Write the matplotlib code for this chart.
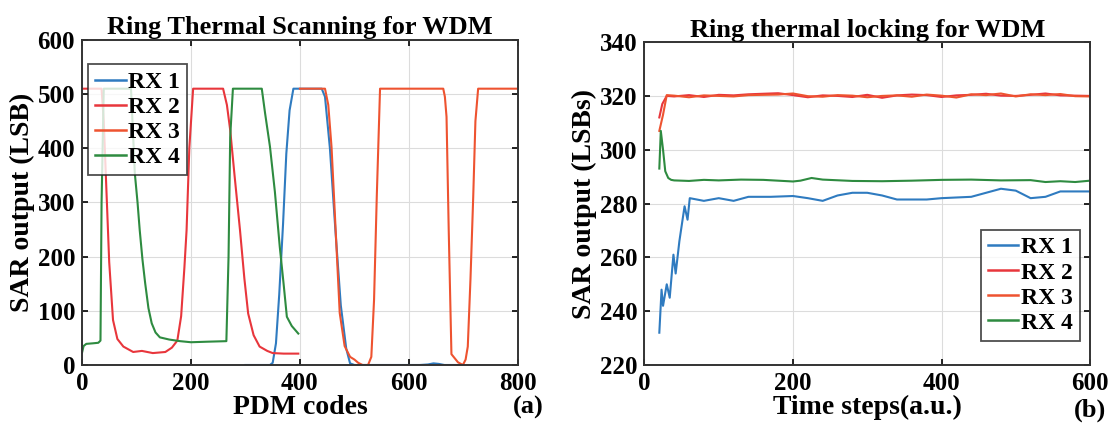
import numpy as np
import matplotlib.pyplot as plt

plt.rcParams['font.family'] = ['Liberation Serif', 'DejaVu Serif']
plt.rcParams['font.weight'] = 'bold'

labels = ['RX 1', 'RX 2', 'RX 3', 'RX 4']
colors = ['#2f7bc0', '#e8363c', '#ee5330', '#2e8b40']

# ---- (a) thermal scanning ----
rx1_x = [300, 345, 350, 356, 362, 369, 375, 381, 388, 440, 446, 455, 465, 475, 485, 492, 500,
         620, 635, 645, 655, 665, 700]
rx1_y = [0, 0, 4, 40, 130, 260, 390, 470, 510, 510, 495, 400, 250, 110, 30, 3, 0,
         0, 1, 3, 2, 0, 0]

rx2_x = [0, 36, 40, 45, 50, 57, 65, 76, 94, 110, 130, 153, 165, 175, 182, 188, 192, 197, 204,
         259, 266, 272, 280, 290, 298, 305, 315, 326, 340, 350, 370, 397]
rx2_y = [510, 510, 450, 320, 190, 83, 48, 34, 24, 26, 22, 24, 32, 45, 90, 180, 249, 400, 510,
         510, 480, 434, 350, 249, 160, 95, 55, 34, 26, 22, 21, 21]

rx3_x = [400, 446, 452, 458, 465, 473, 482, 492, 500, 507, 515, 525, 531, 536, 541, 547,
         663, 666, 669, 673, 678, 690, 699, 704, 708, 713, 718, 722, 727, 800]
rx3_y = [510, 510, 480, 402, 260, 96, 35, 15, 10, 4, 0, 0, 15, 120, 311, 510,
         510, 495, 458, 250, 20, 5, 0, 10, 34, 160, 311, 450, 510, 510]

rx4_x = [0, 3, 8, 20, 30, 34, 36, 40, 90, 97, 102, 106, 111, 116, 122, 128, 135, 143, 160, 180,
         200, 230, 265, 269, 272, 277, 330, 336, 345, 354, 363, 370, 376, 385, 397]
rx4_y = [22, 35, 39, 40, 41, 45, 300, 510, 510, 354, 300, 249, 195, 151, 105, 77, 60, 51, 47, 44,
         42, 43, 44, 200, 420, 510, 510, 465, 403, 320, 218, 150, 89, 72, 58]

# ---- (b) thermal locking ----
lk1_x = [20, 23, 25, 30, 34, 39, 42, 47, 54, 58, 61, 80, 100, 120, 140, 170, 200, 220, 240, 260,
         280, 300, 320, 340, 380, 400, 440, 460, 480, 500, 520, 540, 560, 600]
lk1_y = [232, 248, 242, 250, 245, 261, 254, 266, 279, 274, 282, 281, 282, 281, 282.5, 282.5, 282.8,
         282, 281, 283, 284, 284, 283, 281.5, 281.5, 282, 282.5, 284, 285.5, 284.8, 282, 282.5,
         284.5, 284.5]

lk2_x = [20, 24, 30, 40, 60, 80, 100, 120, 140, 160, 180, 200, 220, 240, 260, 280, 300, 320, 340,
         360, 380, 400, 420, 440, 460, 480, 500, 520, 540, 560, 580, 600]
lk2_y = [312, 317, 320, 319.8, 320.3, 319.6, 320.4, 320.2, 320.6, 320.8, 321.0, 320.3, 319.5, 320.2,
         320.0, 319.6, 320.4, 319.3, 320.2, 320.5, 320.3, 319.6, 320.2, 320.4, 320.8, 320.1, 320.0,
         320.4, 320.9, 320.2, 320.1, 320.0]

lk3_x = [20, 25, 30, 40, 60, 80, 100, 120, 140, 160, 180, 200, 220, 240, 260, 280, 300, 320, 340,
         360, 380, 400, 420, 440, 460, 480, 500, 520, 540, 560, 580, 600]
lk3_y = [307, 313, 320.3, 320.1, 319.5, 320.2, 320.0, 319.8, 320.3, 320.4, 320.5, 320.9, 319.9,
         319.7, 320.3, 320.1, 319.5, 320.0, 320.2, 319.7, 320.5, 320.1, 319.4, 320.6, 320.3, 320.9,
         319.8, 320.6, 320.3, 320.7, 319.9, 319.8]

lk4_x = [20, 22, 25, 28, 32, 36, 40, 60, 80, 100, 130, 160, 200, 210, 225, 240, 280, 320, 360,
         400, 440, 480, 520, 540, 560, 580, 600]
lk4_y = [293, 307, 300, 292, 289.5, 288.8, 288.6, 288.4, 288.8, 288.6, 288.9, 288.8, 288.2, 288.5,
         289.5, 288.9, 288.4, 288.3, 288.5, 288.8, 288.9, 288.6, 288.7, 288.0, 288.3, 288.0, 288.5]

fig = plt.figure(figsize=(11.15, 4.34), dpi=100)
ax1 = fig.add_axes([0.0735, 0.159, 0.391, 0.749])
ax2 = fig.add_axes([0.578, 0.159, 0.3996, 0.744])


def style(ax):
    ax.grid(True, color='#dcdcdc', lw=0.8)
    ax.set_axisbelow(True)
    ax.tick_params(direction='in', top=True, right=True, labelsize=18, width=1.2, length=4, pad=5)
    for sp in ax.spines.values():
        sp.set_linewidth(1.4)
        sp.set_color('#333333')
    for lab in ax.get_xticklabels() + ax.get_yticklabels():
        lab.set_fontweight('bold')


def legend(ax, **kw):
    leg = ax.legend(fontsize=17, frameon=True, fancybox=False, edgecolor='#222222',
                    handlelength=1.3, handletextpad=0.1, labelspacing=0.15, borderpad=0.3,
                    borderaxespad=0, **kw)
    leg.get_frame().set_linewidth(1.3)
    for t in leg.get_texts():
        t.set_fontweight('bold')
    for ln in leg.get_lines():
        ln.set_linewidth(1.8)


for x, y, c, l in zip([rx1_x, rx2_x, rx3_x, rx4_x], [rx1_y, rx2_y, rx3_y, rx4_y], colors, labels):
    ax1.plot(x, y, color=c, lw=1.5, label=l)
ax1.set_xlim(0, 800)
ax1.set_ylim(0, 600)
ax1.set_xticks([0, 200, 400, 600, 800])
ax1.set_yticks([0, 100, 200, 300, 400, 500, 600])
style(ax1)
ax1.set_title('Ring Thermal Scanning for WDM', fontsize=19, fontweight='bold', pad=4)
ax1.set_xlabel('PDM codes', fontsize=20, fontweight='bold', labelpad=0)
ax1.set_ylabel('SAR output (LSB)', fontsize=20, fontweight='bold', labelpad=2)
legend(ax1, loc='upper left', bbox_to_anchor=(0.014, 0.925))
fig.text(0.474, 0.062, '(a)', fontsize=19, fontweight='bold', ha='center', va='center')

for x, y, c, l in zip([lk1_x, lk2_x, lk3_x, lk4_x], [lk1_y, lk2_y, lk3_y, lk4_y], colors, labels):
    ax2.plot(x, y, color=c, lw=1.5, label=l)
ax2.set_xlim(0, 600)
ax2.set_ylim(220, 340)
ax2.set_xticks([0, 200, 400, 600])
ax2.set_yticks([220, 240, 260, 280, 300, 320, 340])
style(ax2)
ax2.set_title('Ring thermal locking for WDM', fontsize=19, fontweight='bold', pad=4)
ax2.set_xlabel('Time steps(a.u.)', fontsize=20, fontweight='bold', labelpad=0)
ax2.set_ylabel('SAR output (LSBs)', fontsize=20, fontweight='bold', labelpad=2)
legend(ax2, loc='lower right', bbox_to_anchor=(0.977, 0.075))
fig.text(0.978, 0.055, '(b)', fontsize=19, fontweight='bold', ha='center', va='center')

fig.savefig('out.png', dpi=100)
